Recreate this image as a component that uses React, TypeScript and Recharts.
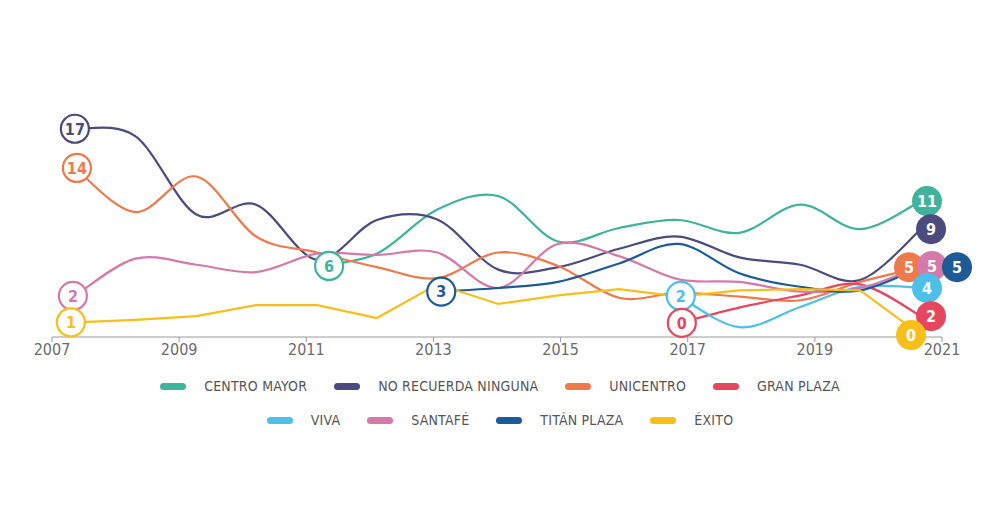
import React from "react";
import { LineChart, Line, XAxis, YAxis } from "recharts";

// survey points (x in years)
const years = [2007.36, 2008.31, 2009.27, 2010.21, 2011.17, 2012.11, 2013.06, 2014.02, 2014.96, 2015.92, 2016.86, 2017.81, 2018.77, 2019.71, 2020.67];

const centroMayor = [null, null, null, null, 5.8, 6.8, 10.4, 11.5, 7.8, 8.9, 9.55, 8.5, 10.8, 8.8, 11.1];
const noRecuerda = [17.0, 16.4, 10.0, 10.8, 6.3, 9.55, 9.6, 5.5, 5.7, 7.2, 8.2, 6.5, 5.9, 4.65, 8.8];
const unicentro = [13.8, 10.2, 13.1, 8.2, 6.9, 5.7, 4.8, 6.9, 5.8, 3.2, 3.6, 3.3, 3.0, 4.5, 5.7];
const granPlaza = [null, null, null, null, null, null, null, null, null, null, 1.15, 2.4, 3.4, 4.3, 1.7];
const viva = [null, null, null, null, null, null, null, null, null, null, 3.35, 0.8, 2.45, 4.1, 4.0];
const santafe = [3.35, 6.4, 5.9, 5.3, 6.8, 6.7, 6.9, 4.0, 7.6, 6.6, 4.7, 4.5, 3.7, 4.0, 5.8];
const titanPlaza = [null, null, null, null, null, null, 3.7, 4.0, 4.5, 6.0, 7.6, 5.2, 4.1, 3.8, 5.7];
const exito = [1.2, 1.4, 1.7, 2.6, 2.6, 1.55, 4.3, 2.7, 3.4, 3.9, 3.3, 3.8, 3.9, 3.8, 0.16];

const tickYears = [2007, 2009, 2011, 2013, 2015, 2017, 2019, 2021];

const series = [
  { key: "centroMayor", name: "CENTRO MAYOR", values: centroMayor, first: "6", last: "11" },
  { key: "noRecuerda", name: "NO RECUERDA NINGUNA", values: noRecuerda, first: "17", last: "9" },
  { key: "unicentro", name: "UNICENTRO", values: unicentro, first: "14", last: "5" },
  { key: "granPlaza", name: "GRAN PLAZA", values: granPlaza, first: "0", last: "2" },
  { key: "viva", name: "VIVA", values: viva, first: "2", last: "4" },
  { key: "santafe", name: "SANTAFÉ", values: santafe, first: "2", last: "5" },
  { key: "titanPlaza", name: "TITÁN PLAZA", values: titanPlaza, first: "3", last: "5" },
  { key: "exito", name: "ÉXITO", values: exito, first: "1", last: "0" },
];

const styles: Record<string, { color: string; startDx: number; endDx: number; linear?: boolean }> = {
  centroMayor: { color: "#3fb39b", startDx: 12, endDx: 6 },
  noRecuerda: { color: "#4b4c7d", startDx: 0, endDx: 10 },
  unicentro: { color: "#ee7a4c", startDx: 2, endDx: -12 },
  granPlaza: { color: "#e5475f", startDx: 3, endDx: 10 },
  viva: { color: "#4dbfe8", startDx: 2, endDx: 6 },
  santafe: { color: "#d37aaa", startDx: -2, endDx: 11 },
  titanPlaza: { color: "#1c5b95", startDx: 4, endDx: 36 },
  exito: { color: "#f6bf1a", startDx: -4, endDx: -10, linear: true },
};

// z-order of the number bubbles
const markerOrder = ["unicentro", "santafe", "titanPlaza", "viva", "granPlaza", "exito", "centroMayor", "noRecuerda"];

const FONT = "'DejaVu Sans Condensed', 'Liberation Sans Narrow', 'DejaVu Sans', sans-serif";

const data = years.map((year, i) => {
  const row: any = { year };
  series.forEach((s) => (row[s.key] = s.values[i]));
  return row;
});

// catmull-rom style curve, the drawing uses softer bends than monotone
function softCurve(context: any) {
  let pts: number[][] = [];
  return {
    areaStart() {},
    areaEnd() {},
    lineStart() {
      pts = [];
    },
    point(x: number, y: number) {
      pts.push([+x, +y]);
    },
    lineEnd() {
      const n = pts.length;
      if (!n) return;
      context.moveTo(pts[0][0], pts[0][1]);
      for (let i = 0; i < n - 1; i++) {
        const p0 = pts[i - 1] || pts[i];
        const p1 = pts[i];
        const p2 = pts[i + 1];
        const p3 = pts[i + 2] || p2;
        context.bezierCurveTo(
          p1[0] + (p2[0] - p0[0]) / 6,
          p1[1] + (p2[1] - p0[1]) / 6,
          p2[0] - (p3[0] - p1[0]) / 6,
          p2[1] - (p3[1] - p1[1]) / 6,
          p2[0],
          p2[1]
        );
      }
    },
  };
}

function makeMarker(s: (typeof series)[number]) {
  const st = styles[s.key];
  const firstIdx = s.values.findIndex((v) => v !== null);
  const lastIdx = s.values.length - 1;
  return (props: any) => {
    const { cx, cy, index } = props;
    const k = `${s.key}-m-${index}`;
    if (cx == null || cy == null || (index !== firstIdx && index !== lastIdx)) return <g key={k} />;
    const isEnd = index === lastIdx;
    const x = cx + (isEnd ? st.endDx : st.startDx);
    return (
      <g key={k}>
        <circle
          cx={x}
          cy={cy}
          r={isEnd ? 15 : 14}
          fill={isEnd ? st.color : "#fff"}
          stroke={st.color}
          strokeWidth={isEnd ? 0 : 2.2}
        />
        <text
          x={x}
          y={cy}
          dy="0.36em"
          textAnchor="middle"
          fill={isEnd ? "#fff" : st.color}
          fontSize={16}
          fontWeight="bold"
          fontFamily={FONT}
        >
          {isEnd ? s.last : s.first}
        </text>
      </g>
    );
  };
}

const legendRows = [series.slice(0, 4), series.slice(4)];

export default function App() {
  return (
    <div style={{ position: "absolute", left: 0, top: 0, width: 1000, height: 530, background: "#fff", fontFamily: FONT }}>
      <LineChart width={1000} height={370} data={data} margin={{ top: 92, right: 58, bottom: 3, left: 52 }}>
        <XAxis
          type="number"
          dataKey="year"
          domain={[2007, 2021]}
          ticks={tickYears}
          height={30}
          stroke="#9a9a9a"
          tickSize={5}
          tick={{ fill: "#6b6b6b", fontSize: 16, fontFamily: FONT }}
        />
        <YAxis hide domain={[0, 20]} />
        {series.map((s) => (
          <Line
            key={s.key}
            dataKey={s.key}
            type={styles[s.key].linear ? "linear" : (softCurve as any)}
            stroke={styles[s.key].color}
            strokeWidth={2.2}
            dot={false}
            activeDot={false}
            isAnimationActive={false}
          />
        ))}
        {markerOrder.map((key) => {
          const s = series.find((x) => x.key === key)!;
          return (
            <Line
              key={`${key}-markers`}
              dataKey={key}
              type="linear"
              stroke="none"
              dot={makeMarker(s)}
              activeDot={false}
              legendType="none"
              isAnimationActive={false}
            />
          );
        })}
      </LineChart>
      <div style={{ position: "absolute", top: 375, left: 0, width: 1000 }}>
        {legendRows.map((row, ri) => (
          <div
            key={ri}
            style={{ display: "flex", justifyContent: "center", alignItems: "center", height: 22, marginBottom: 12 }}
          >
            {row.map((s, i) => (
              <div key={s.key} style={{ display: "flex", alignItems: "center", marginLeft: i === 0 ? 0 : 27 }}>
                <span
                  style={{
                    display: "inline-block",
                    width: 26,
                    height: 7,
                    borderRadius: 4,
                    background: styles[s.key].color,
                    marginRight: 18,
                  }}
                />
                <span style={{ fontSize: 14, color: "#555", letterSpacing: 0.2 }}>{s.name}</span>
              </div>
            ))}
          </div>
        ))}
      </div>
    </div>
  );
}
